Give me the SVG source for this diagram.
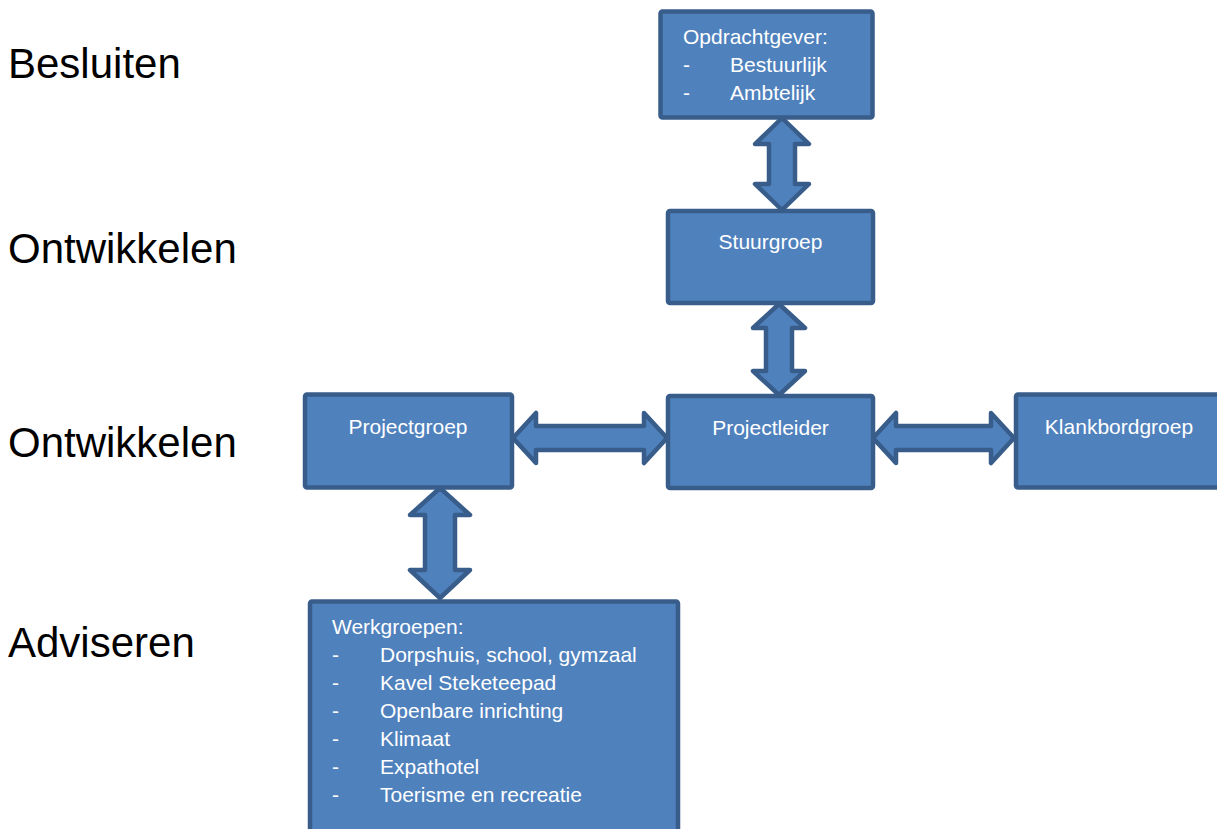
<svg xmlns="http://www.w3.org/2000/svg" width="1217" height="829" viewBox="0 0 1217 829">
<style>
.box{fill:#4F81BD;stroke:#385D8A;stroke-width:4.5;stroke-linejoin:round}
.arr{fill:#4F81BD;stroke:#385D8A;stroke-width:4.5;stroke-linejoin:round}
.t{font-family:"Liberation Sans",Arial,sans-serif;font-size:21px;fill:#FFFFFF}
.c{text-anchor:middle}
.lbl{font-family:"Liberation Sans",Arial,sans-serif;font-size:42px;fill:#000000}
</style>
<rect width="1217" height="829" fill="#FFFFFF"/>
<g id="labels">
<text class="lbl" x="8" y="78">Besluiten</text>
<text class="lbl" x="8" y="263">Ontwikkelen</text>
<text class="lbl" x="8" y="457">Ontwikkelen</text>
<text class="lbl" x="8" y="657">Adviseren</text>
</g>
<g id="connectors">
<polygon class="arr" points="782,118 809,144 795,144 795,184 809,184 782,210 755,184 769,184 769,144 755,144"/>
<polygon class="arr" points="779,304 805,328 792,328 792,371 805,371 779,395 753,371 766,371 766,328 753,328"/>
<polygon class="arr" points="513,438 536,413 536,426 644,426 644,413 667,438 644,463 644,450 536,450 536,463"/>
<polygon class="arr" points="873,438 896,413 896,426 991,426 991,413 1014,438 991,463 991,450 896,450 896,463"/>
<polygon class="arr" points="440,488 470,515 455,515 455,570 470,570 440,598 410,570 425,570 425,515 410,515"/>
</g>
<g id="opdrachtgever">
<rect class="box" x="660.5" y="11.5" width="212" height="106" rx="2"/>
<text class="t" x="683" y="44">Opdrachtgever:</text>
<text class="t" x="683" y="72">-</text><text class="t" x="730" y="72">Bestuurlijk</text>
<text class="t" x="683" y="100">-</text><text class="t" x="730" y="100">Ambtelijk</text>
</g>
<g id="stuurgroep">
<rect class="box" x="668" y="211" width="205" height="92" rx="2"/>
<text class="t c" x="770.5" y="249">Stuurgroep</text>
</g>
<g id="projectleider">
<rect class="box" x="668" y="396" width="205" height="92" rx="2"/>
<text class="t c" x="770.5" y="435">Projectleider</text>
</g>
<g id="projectgroep">
<rect class="box" x="305" y="394.5" width="207" height="93" rx="2"/>
<text class="t c" x="408" y="434">Projectgroep</text>
</g>
<g id="klankbordgroep">
<rect class="box" x="1016" y="394.5" width="210" height="93" rx="2"/>
<text class="t c" x="1119" y="434">Klankbordgroep</text>
</g>
<g id="werkgroepen">
<rect class="box" x="310" y="601.5" width="368" height="250" rx="2"/>
<text class="t" x="332" y="634">Werkgroepen:</text>
<text class="t" x="332" y="662">-</text><text class="t" x="380" y="662">Dorpshuis, school, gymzaal</text>
<text class="t" x="332" y="690">-</text><text class="t" x="380" y="690">Kavel Steketeepad</text>
<text class="t" x="332" y="718">-</text><text class="t" x="380" y="718">Openbare inrichting</text>
<text class="t" x="332" y="746">-</text><text class="t" x="380" y="746">Klimaat</text>
<text class="t" x="332" y="774">-</text><text class="t" x="380" y="774">Expathotel</text>
<text class="t" x="332" y="802">-</text><text class="t" x="380" y="802">Toerisme en recreatie</text>
</g>
</svg>
